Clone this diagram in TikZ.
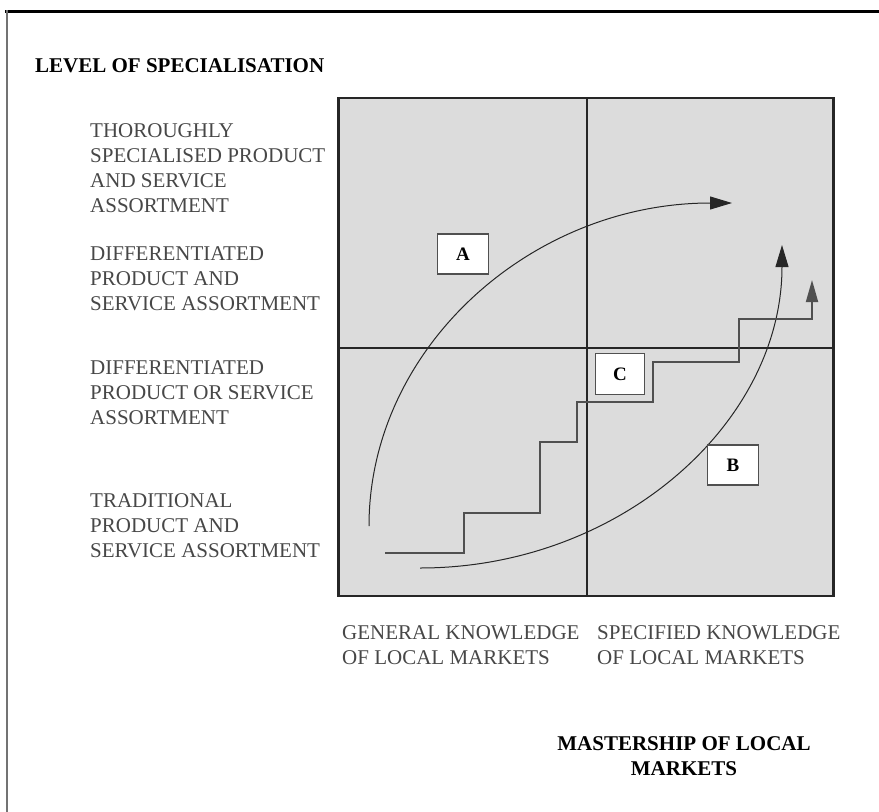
\documentclass[tikz,border=0pt]{standalone}
\usepackage{fontspec}
\setmainfont{Liberation Serif}
\usepackage{tikz}
\usetikzlibrary{arrows.meta}
\definecolor{quadgray}{HTML}{DCDCDC}
\definecolor{linegray}{HTML}{505050}
\tikzstyle{axislabel} = [inner sep=0pt, anchor=north west, align=left, text=black!72, font=\fontsize{21}{25}\selectfont]
\tikzstyle{axistitle} = [inner sep=0pt, align=center, text=black, font=\bfseries\fontsize{21}{25}\selectfont]
\tikzstyle{letterbox} = [rectangle, draw=linegray, line width=1.5pt, fill=white, minimum width=51pt, minimum height=40pt, font=\bfseries\fontsize{19}{21}\selectfont]
\tikzstyle{curvearrow} = [line width=1pt, draw=black!85, -{Triangle[length=22pt,width=13pt]}]
\tikzstyle{stairline} = [line width=1.8pt, draw=linegray, -{Triangle[length=22pt,width=12pt]}]

\begin{document}
\begin{tikzpicture}[x=1pt, y=-1pt]
\useasboundingbox (0,0) rectangle (879,812);
% frame
\draw [line width=3pt] (5,11) -- (879,11);
\draw [line width=2.5pt, black!55] (7,10) -- (7,812);

% matrix
\node (field) [rectangle, draw=black!85, line width=2.5pt, fill=quadgray, minimum width=495pt, minimum height=498pt] at (586,347) {};
\draw [line width=1.5pt, black!85] (587,98) -- (587,596);
\draw [line width=1.5pt, black!85] (338,348) -- (833,348);

% titles
\node (ytitle) [axistitle, anchor=north west] at (35,58) {LEVEL OF SPECIALISATION};
\node (xtitle) [axistitle, anchor=north] at (684,736) {MASTERSHIP OF LOCAL\\MARKETS};

% level labels
\node (lvlspec) [axislabel] at (90,123) {THOROUGHLY\\SPECIALISED PRODUCT\\AND SERVICE\\ASSORTMENT};
\node (lvldiffand) [axislabel] at (90,246) {DIFFERENTIATED\\PRODUCT AND\\SERVICE ASSORTMENT};
\node (lvldiffor) [axislabel] at (90,360) {DIFFERENTIATED\\PRODUCT OR SERVICE\\ASSORTMENT};
\node (lvltrad) [axislabel] at (90,493) {TRADITIONAL\\PRODUCT AND\\SERVICE ASSORTMENT};

% knowledge labels
\node (kngeneral) [axislabel] at (342,625) {GENERAL KNOWLEDGE\\OF LOCAL MARKETS};
\node (knspecified) [axislabel] at (597,625) {SPECIFIED KNOWLEDGE\\OF LOCAL MARKETS};

% routes
\coordinate (aStart) at (369,526);
\coordinate (aEnd) at (732,203);
\coordinate (bStart) at (420,568);
\coordinate (bEnd) at (782,245);
\coordinate (cStart) at (385,553);
\coordinate (cEnd) at (812,280);

\draw [curvearrow] (aStart) .. controls (369,348) and (531,203) .. (aEnd);
\draw [curvearrow] (bStart) .. controls (620,568) and (782,423) .. (bEnd);
\draw [stairline] (cStart) -- (464,553) -- (464,513) -- (540,513) -- (540,442) -- (577,442) -- (577,402) -- (653,402) -- (653,362) -- (739,362) -- (739,319) -- (812,319) -- (cEnd);

\node (boxA) [letterbox] at (463,254) {A};
\node (boxB) [letterbox] at (733,465) {B};
\node (boxC) [letterbox, minimum width=49pt, minimum height=41pt] at (620,374) {C};
\end{tikzpicture}
\end{document}
